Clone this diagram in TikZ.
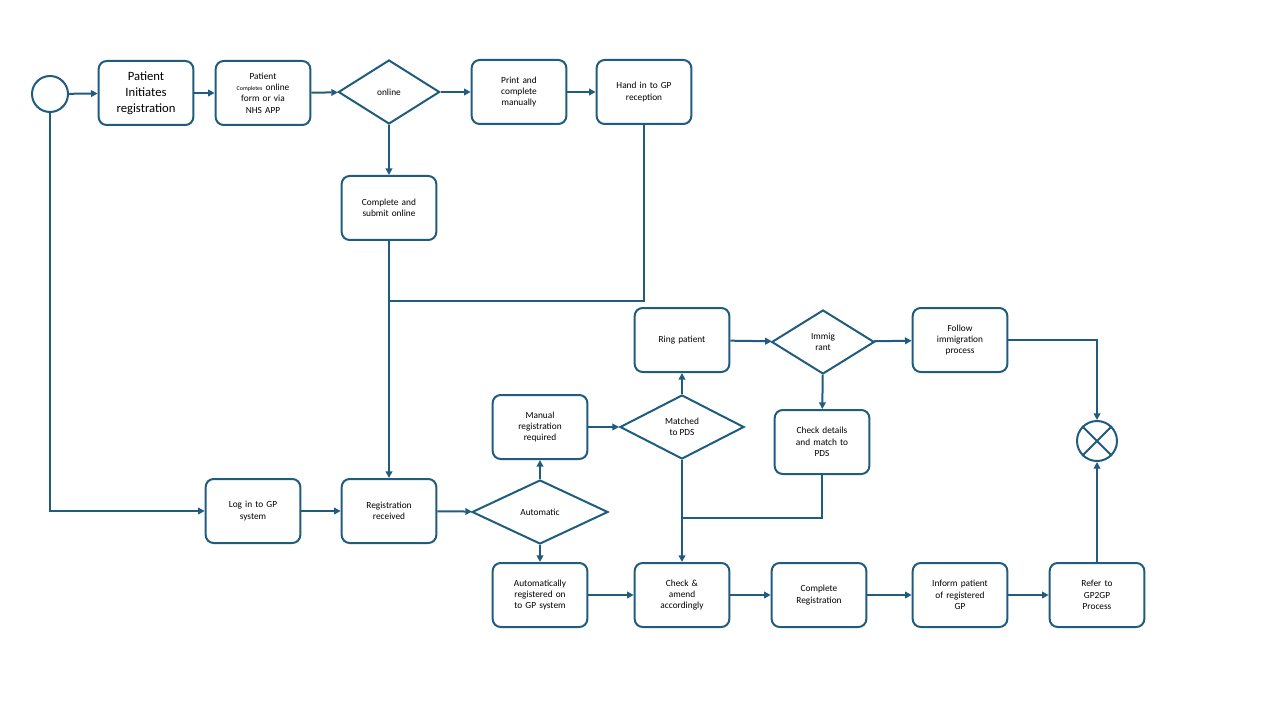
\documentclass[tikz,border=0pt]{standalone}
\usepackage{fontspec}
\setmainfont{Carlito}
\usetikzlibrary{shapes.geometric,arrows.meta,calc}
\definecolor{flow}{RGB}{31,92,126}
\tikzset{every picture/.style={line width=1.5pt}}
\tikzset{
  box/.style={draw=flow,rounded corners=6pt,minimum width=71pt,minimum height=48pt,align=center,font=\fontsize{7}{8.5}\selectfont,text width=64pt,inner sep=1pt},
  dec/.style={draw=flow,diamond,aspect=1.6,minimum width=76pt,minimum height=48pt,align=center,font=\fontsize{7}{8.5}\selectfont,inner sep=0pt},
  flw/.style={draw=flow,-{Triangle[length=5pt,width=5pt]}},
  lin/.style={draw=flow}
}
\begin{document}
\begin{tikzpicture}[x=0.75pt,y=0.75pt,yscale=-1,xscale=1]
\useasboundingbox (0,0) rectangle (1280,720);

% Top row
\node [draw=flow,circle,minimum size=27pt,inner sep=0pt] (start) at (50,94) {};
\node [box,font=\fontsize{9.5}{12}\selectfont] (init) at (146,93) {Patient\\Initiates\\registration};
\node [box] (form) at (263,93) {Patient\\{\fontsize{4.5}{5}\selectfont Completes} online\\form or via\\NHS APP};
\node [dec] (online) at (389,92) {online};
\node [box] (print) at (519,92) {Print and\\complete\\manually};
\node [box] (hand) at (644,92) {Hand in to GP\\reception\\[8pt]};
\node [box] (submit) at (389,208) {Complete and\\submit online};
\coordinate (join) at (389,301);

% Middle row
\node [box] (ring) at (682,340) {Ring patient};
\node [dec,minimum width=77pt] (immig) at (823,342) {Immig\\rant};
\node [box] (follow) at (960,340) {Follow\\immigration\\process};
\node [box] (manual) at (540,427) {Manual\\registration\\required};
\node [dec,minimum width=93pt] (matched) at (682,427) {Matched\\to PDS};
\node [box] (chkpds) at (822,442) {Check details\\and match to\\PDS};
\node [draw=flow,circle,minimum size=30pt,inner sep=0pt] (merge) at (1097,441) {};
\draw [flow] (merge.north west) -- (merge.south east) (merge.north east) -- (merge.south west);

% Lower rows
\node [box] (login) at (253,511) {Log in to GP\\system};
\node [box] (recv) at (389,511) {Registration\\received};
\node [dec,minimum width=102pt] (auto) at (540,512) {Automatic};
\node [box] (autoreg) at (540,595) {Automatically\\registered on\\to GP system};
\node [box] (amend) at (682,595) {Check \&\\amend\\accordingly};
\node [box] (complete) at (819,595) {Complete\\Registration};
\node [box] (inform) at (960,595) {Inform patient\\of registered\\GP};
\node [box] (refer) at (1097,595) {Refer to\\GP2GP\\Process};
\coordinate (pdsjoin) at (682,518);

% Connectors
\draw [flw] (start) -- (init);
\draw [flw] (init) -- (form);
\draw [flw] (form) -- (online);
\draw [flw] (online) -- (print);
\draw [flw] (print) -- (hand);
\draw [flw] (online) -- (submit);
\draw [flw] (start) |- (login);
\draw [lin] (hand) |- (join);
\draw [flw] (submit) -- (recv);
\draw [flw] (login) -- (recv);
\draw [flw] (recv) -- (auto);
\draw [flw] (auto) -- (manual);
\draw [flw] (auto) -- (autoreg);
\draw [flw] (manual) -- (matched);
\draw [flw] (matched) -- (ring);
\draw [flw] (matched) -- (amend);
\draw [flw] (ring) -- (immig);
\draw [flw] (immig) -- (follow);
\draw [flw] (immig) -- (chkpds);
\draw [lin] (chkpds) |- (pdsjoin);
\draw [flw] (follow) -| (merge);
\draw [flw] (autoreg) -- (amend);
\draw [flw] (amend) -- (complete);
\draw [flw] (complete) -- (inform);
\draw [flw] (inform) -- (refer);
\draw [flw] (refer) -- (merge);

\end{tikzpicture}
\end{document}
